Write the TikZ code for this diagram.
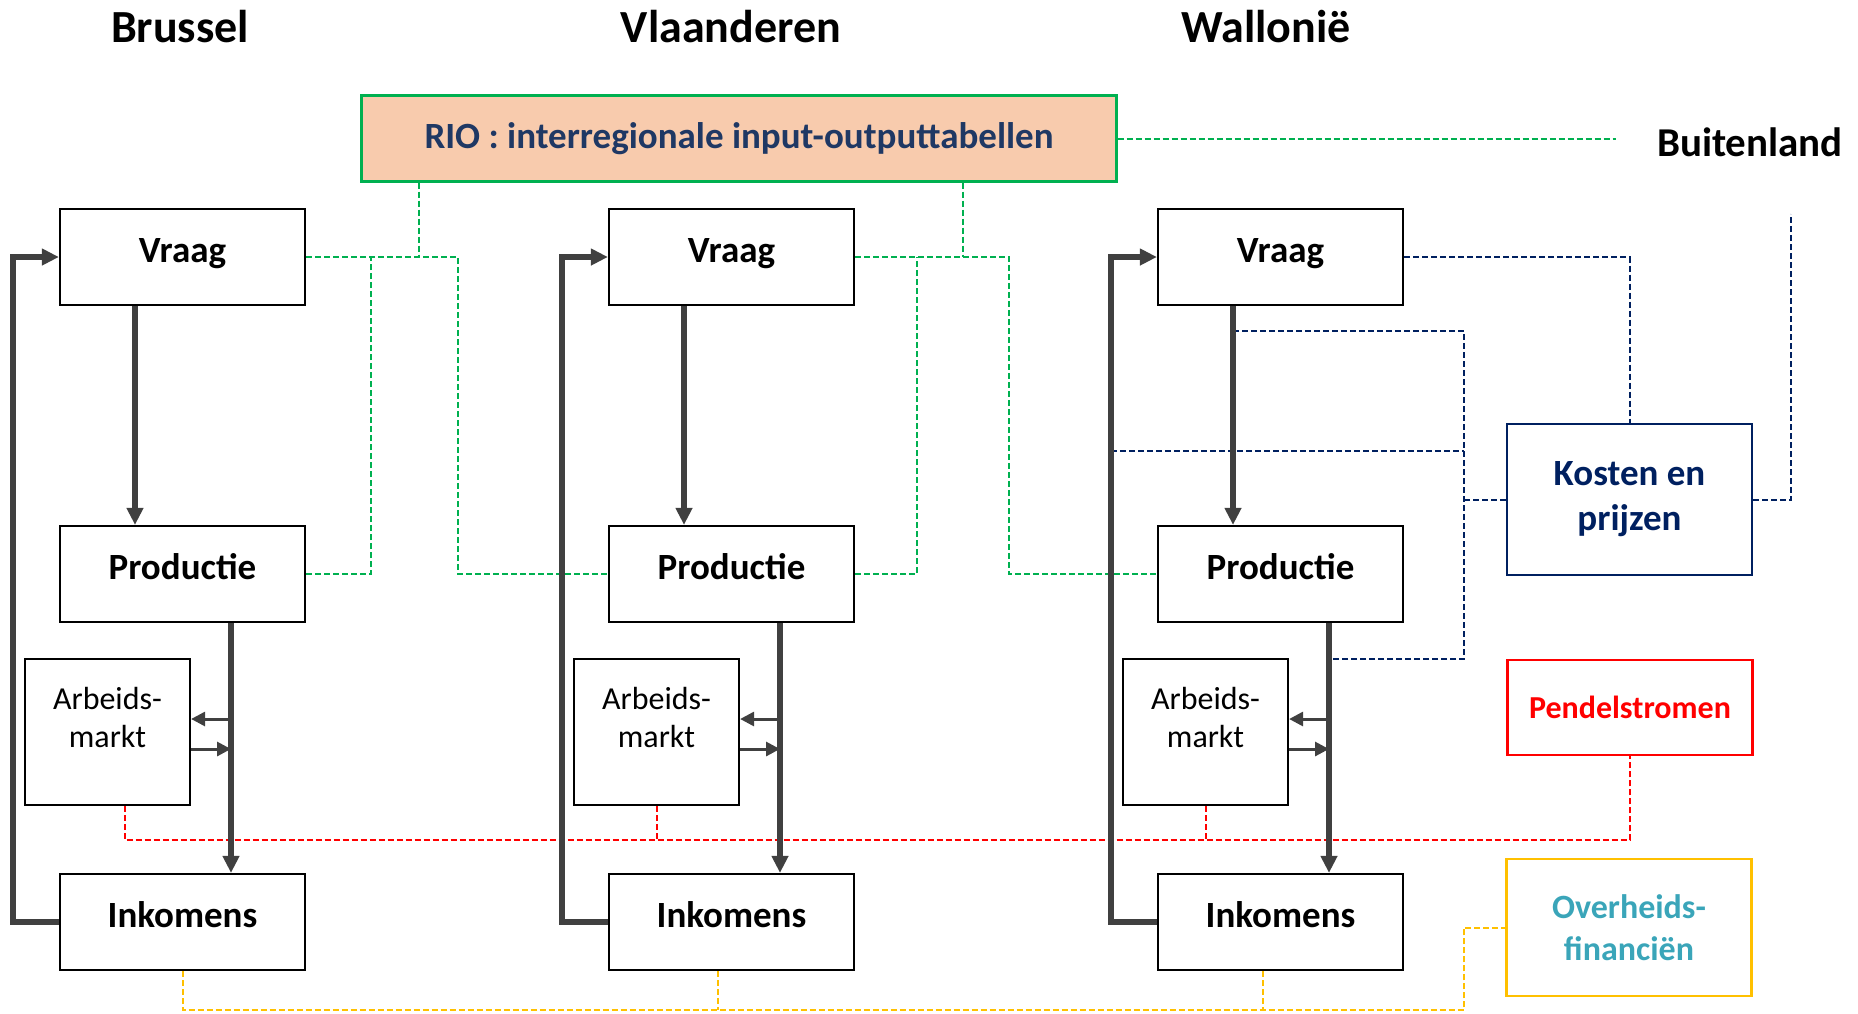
\documentclass[tikz,border=0pt]{standalone}
\usepackage{fontspec}
\setmainfont{Carlito}
\usetikzlibrary{arrows.meta}
\definecolor{flowgray}{HTML}{404040}
\definecolor{riofill}{HTML}{F8CBAD}
\definecolor{riogreen}{HTML}{00B050}
\definecolor{riotext}{HTML}{1F3864}
\definecolor{kostblue}{HTML}{002060}
\definecolor{pendred}{HTML}{FF0000}
\definecolor{overgold}{HTML}{FFC000}
\definecolor{overteal}{HTML}{3AA5B9}
\tikzset{
    mainbox/.style={draw=black, line width=2.2pt, fill=white, minimum width=245pt,
        text height=53pt, text depth=43pt, inner ysep=0pt,
        font=\fontsize{37}{44}\selectfont\bfseries},
    arbbox/.style={draw=black, line width=2.2pt, minimum width=165pt, minimum height=146pt, inner sep=0pt},
    arbtext/.style={anchor=north, align=center, inner sep=0pt, yshift=-29pt,
        font=\fontsize{32}{38}\selectfont},
    sidebox/.style={line width=2.2pt, minimum width=245pt, align=center,
        font=\fontsize{37}{45}\selectfont\bfseries},
    regtitle/.style={font=\fontsize{46}{55}\selectfont\bfseries},
    flow/.style={draw=flowgray, line width=5.5pt, line join=miter, -{Triangle[length=17pt,width=16pt]}},
    smallflow/.style={draw=flowgray, line width=3pt, -{Triangle[length=14pt,width=14pt]}},
    link/.style={line width=2pt, dash pattern=on 6pt off 3pt}
}
\begin{document}
\begin{tikzpicture}[x=1pt,y=-1pt]
    \useasboundingbox (0,0) rectangle (1858,1013);
    % Region titles
    \node[regtitle] (bru) at (180,27) {Brussel};
    \node[regtitle] (vla) at (731,27) {Vlaanderen};
    \node[regtitle] (wal) at (1266,27) {Wallonië};
    % Input-output tables and abroad
    \node[draw=riogreen, fill=riofill, text=riotext, line width=2.2pt, minimum width=755pt, minimum height=86pt,
        font=\fontsize{37}{44}\selectfont\bfseries] (rio) at (739,138.5) {RIO : interregionale input-outputtabellen};
    \node[font=\fontsize{41}{49}\selectfont\bfseries] (buiten) at (1750,142) {Buitenland};
    % Regional blocks
    \foreach \i in {1,2,3}{
      \pgfmathsetmacro{\dx}{(\i-1)*549}
      \node[mainbox] (vraag\i) at ({\dx+182.5},257) {Vraag};
      \node[mainbox] (prod\i) at ({\dx+182.5},574) {Productie};
      \node[mainbox] (ink\i) at ({\dx+182.5},922) {Inkomens};
      \node[arbbox, label={[arbtext]north:Arbeids-\\markt}] (arb\i) at ({\dx+107.5},732) {};
      \coordinate (va\i) at ({\dx+135},0);
      \coordinate (pi\i) at ({\dx+231},0);
      \coordinate (fb\i) at ({\dx+13},0);
      }
    % Side boxes
    \node[sidebox, draw=kostblue, text=kostblue, minimum height=151pt] (kost) at (1629.5,499.5) {Kosten en\\prijzen};
    \node[sidebox, draw=pendred, text=pendred, minimum height=95pt,
        font=\fontsize{32}{38}\selectfont\bfseries] (pend) at (1630,707.5) {Pendelstromen};
    \node[sidebox, draw=overgold, text=overteal, minimum height=137pt,
        font=\fontsize{34}{42}\selectfont\bfseries] (over) at (1629,927.5) {Overheids-\\financiën};
    % Green links (RIO)
    \draw[link, draw=riogreen, shorten >=38pt] (rio.east) -- (rio.east -| buiten.west);
    \draw[link, draw=riogreen] (vraag1.east) -- ++(65,0) coordinate (gj1) -- ++(48,0) coordinate (gr1) -- ++(39,0) |- (prod2.west);
    \draw[link, draw=riogreen] (prod1.east) -| (gj1);
    \draw[link, draw=riogreen] (rio.south -| gr1) -- (gr1);
    \draw[link, draw=riogreen] (vraag2.east) -- ++(62,0) coordinate (gj2) -- ++(46,0) coordinate (gr2) -- ++(46,0) |- (prod3.west);
    \draw[link, draw=riogreen] (prod2.east) -| (gj2);
    \draw[link, draw=riogreen] (rio.south -| gr2) -- (gr2);
    % Blue links (costs and prices)
    \coordinate (trunk) at (1464,0);
    \draw[link, draw=kostblue] (vraag3.east) -| (kost.north);
    \draw[link, draw=kostblue] (va3 |- 0,331) -| (trunk |- 0,659) -- (pi3 |- 0,659);
    \draw[link, draw=kostblue] (fb3 |- 0,451) -- (trunk |- 0,451);
    \draw[link, draw=kostblue] (kost.west) -- (kost.west -| trunk);
    \draw[link, draw=kostblue] (kost.east) -- ++(38,0) -- ++(0,-286);
    % Red links (commuting)
    \draw[link, draw=pendred] ([xshift=17pt]arb1.south) |- (pend.south |- 0,840) -- (pend.south);
    \foreach \i in {2,3}
      \draw[link, draw=pendred] (arb\i.south) -- (arb\i.south |- 0,840);
    % Yellow links (public finances)
    \draw[link, draw=overgold] (ink1.south) |- (trunk |- 0,1010) |- (over.west);
    \draw[link, draw=overgold] ([xshift=-14pt]ink2.south) -- ++(0,39);
    \draw[link, draw=overgold] ([xshift=-18pt]ink3.south) -- ++(0,39);
    % Flows within each region
    \foreach \i in {1,2,3}{
      \draw[flow] (vraag\i.south -| va\i) -- (prod\i.north -| va\i);
      \draw[flow] (prod\i.south -| pi\i) -- (ink\i.north -| pi\i);
      \draw[flow] (ink\i.west) -- (ink\i.west -| fb\i) |- (vraag\i.west);
      \draw[smallflow] (pi\i |- 0,719) -- (arb\i.east |- 0,719);
      \draw[smallflow] (arb\i.east |- 0,749) -- (pi\i |- 0,749);
      }
\end{tikzpicture}
\end{document}
